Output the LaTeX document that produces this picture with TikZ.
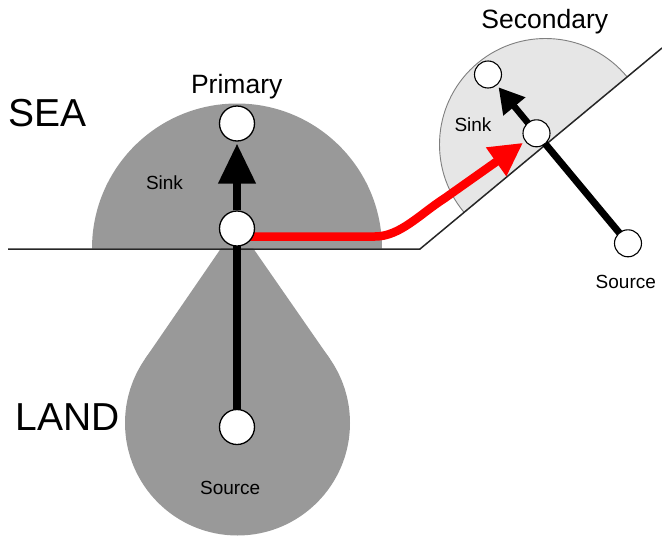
\documentclass[tikz,border=0pt]{standalone}
\usepackage{fontspec}
\setmainfont{Liberation Sans}
\usetikzlibrary{arrows.meta,calc}
\pgfdeclarelayer{bg}
\pgfdeclarelayer{mid}
\pgfsetlayers{bg,mid,main}
\definecolor{darkfill}{HTML}{999999}
\definecolor{lightfill}{HTML}{E6E6E6}
\definecolor{rimgray}{HTML}{7F7F7F}
\begin{document}
\begin{tikzpicture}[x=1pt,y=-1pt,
  bigdot/.style={circle,draw=black,fill=white,line width=1.3pt,minimum size=35pt,inner sep=0pt},
  smalldot/.style={circle,draw=black,fill=white,line width=1.1pt,minimum size=27pt,inner sep=0pt},
  biglabel/.style={font=\fontsize{39}{39}\selectfont,anchor=base},
  midlabel/.style={font=\fontsize{26.5}{26.5}\selectfont,anchor=base},
  smalllabel/.style={font=\fontsize{19}{19}\selectfont,anchor=base},
  coast/.style={line width=1.5pt,black!85},
  flowline/.style={line width=8pt,black},
  bigarrow/.style={line width=7.5pt,black,-{Triangle[length=40pt,width=36pt]},shorten >=2pt},
  smallarrow/.style={line width=6.5pt,black,-{Triangle[length=25pt,width=27pt]},shorten >=16.5pt},
  redarrow/.style={line width=8.5pt,red,-{Triangle[length=33pt,width=33pt]},shorten >=16.5pt}
]
\useasboundingbox (0,0) rectangle (662,536);

% circles
\node[bigdot] (p1top) at (237,123.5) {};
\node[bigdot] (p1sink) at (237,228.5) {};
\node[bigdot] (p1src) at (237,427) {};
\node[smalldot] (s2top) at (488,74.5) {};
\node[smalldot] (s2sink) at (536.5,133.3) {};
\node[smalldot] (s2src) at (628,243.3) {};

% backgrounds
\begin{pgfonlayer}{bg}
  \fill[darkfill] (92,248.5) arc[start angle=180,end angle=360,radius=145] -- cycle;
  \fill[darkfill] (237.5,423) circle[radius=112.5];
  \fill[darkfill] (237,225) -- (145,359) -- (237.5,423) -- (330,359) -- cycle;
  \filldraw[fill=lightfill,draw=rimgray,line width=0.9pt]
    ($(545.5,144.5)+(-39.7:106)$) arc[start angle=-39.7,end angle=-219.7,radius=106];
  \draw[coast] (8,249) -- (420,249) -- (662,48);
\end{pgfonlayer}

% connectors
\begin{pgfonlayer}{mid}
  \draw[flowline] (p1src.center) -- (p1sink.center);
  \draw[bigarrow] (p1sink.north) -- (p1top.south);
  \draw[line width=7pt,black] (s2src.center) -- (s2sink.center);
  \draw[smallarrow] (s2sink.center) -- (s2top.center);
  \draw[redarrow] ($(p1sink.center)+(0,8)$) -- (375,236.5)
    .. controls (400,236.5) and (420,214) .. (445,198) -- (s2sink.center);
\end{pgfonlayer}

% labels
\node[biglabel] (sea) at (47.8,126.7) {SEA};
\node[biglabel] (land) at (67.5,430.7) {LAND};
\node[midlabel] (primary) at (236.7,93.3) {Primary};
\node[midlabel] (secondary) at (544.8,28.3) {Secondary};
\node[smalllabel] (sink1) at (164.5,189.3) {Sink};
\node[smalllabel] (src1) at (230.2,494) {Source};
\node[smalllabel] (sink2) at (473,131) {Sink};
\node[smalllabel] (src2) at (625.8,288.3) {Source};
\end{tikzpicture}
\end{document}
